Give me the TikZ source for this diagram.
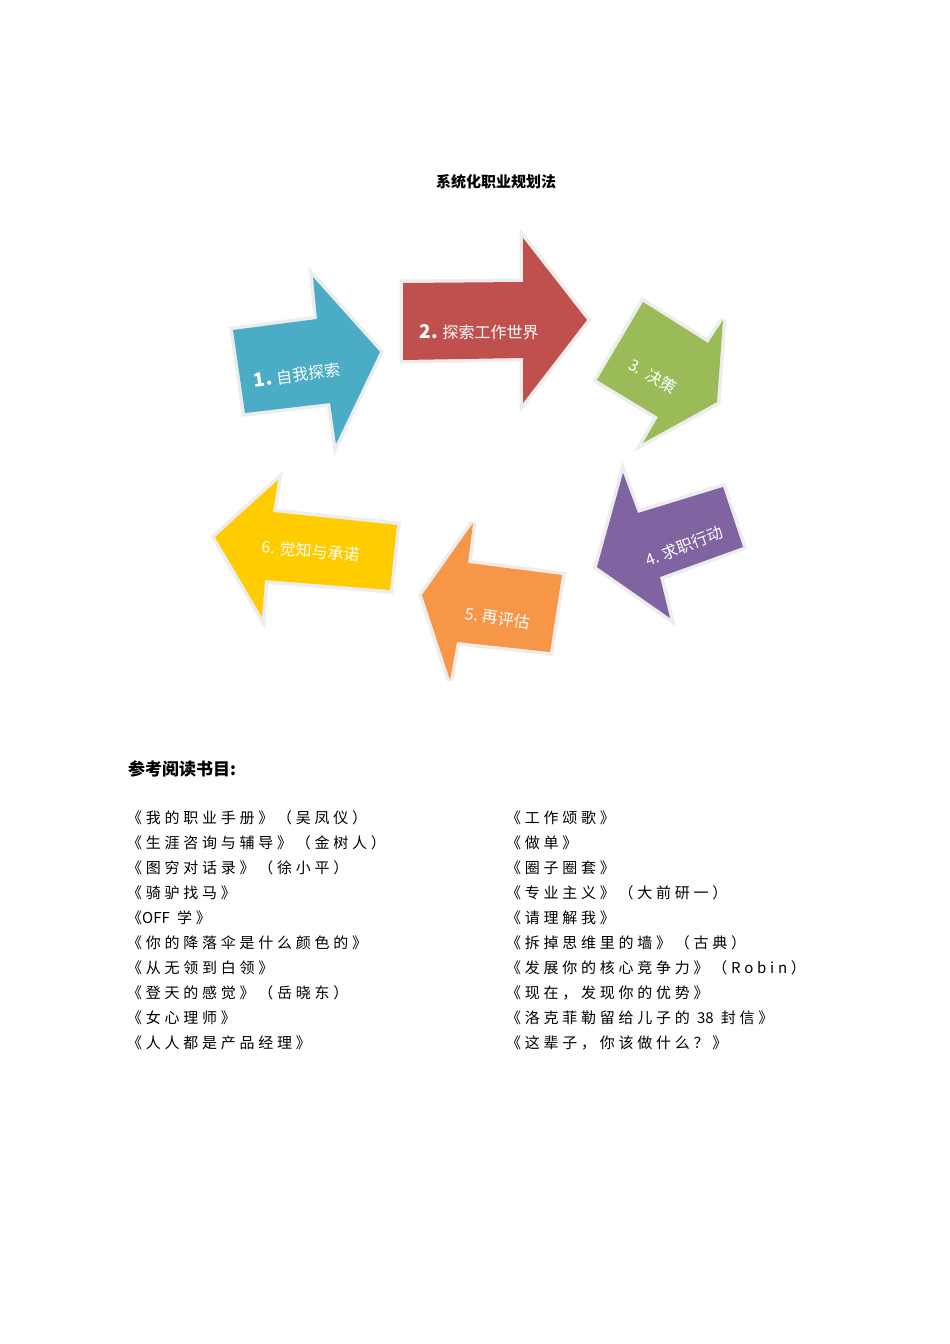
\documentclass[tikz,border=0pt]{standalone}
\usepackage{xcolor}
\usepackage{tikz}
\usepackage{fontspec}
\usetikzlibrary{positioning}
\newfontfamily\cjk{Noto Sans CJK SC}
\newfontfamily\cjkbook[LetterSpace=25]{Noto Sans CJK SC}
\definecolor{stepblue}{HTML}{4BACC6}
\definecolor{stepred}{HTML}{C0504D}
\definecolor{stepgreen}{HTML}{9BBB59}
\definecolor{steppurple}{HTML}{8064A2}
\definecolor{steporange}{HTML}{F79646}
\definecolor{stepyellow}{HTML}{FFCC00}
\definecolor{glow}{HTML}{EDEDED}

\begin{document}
\begin{tikzpicture}[x=1pt,
			y=-1pt,
			blockarrow/.style={preaction={draw=glow, line width=7pt, line join=miter, miter limit=4}},
			steptext/.style={text=white, font=\cjk\fontsize{16}{18}\selectfont},
			booktext/.style={anchor=base west, inner sep=0pt, font=\cjkbook\fontsize{15}{18}\selectfont}]
			
			\fill[white] (0,0) rectangle (950,1344);
			\useasboundingbox (0,0) rectangle (950,1344);
			
			\node (title) at (496,182) {\cjk\bfseries\fontsize{15}{18}\selectfont 系统化职业规划法};
			
			\fill[stepblue, blockarrow] (233,330) -- (317,319) -- (313,277) -- (380,352) -- (336,444) -- (330,403) -- (245,413) -- cycle;
			\fill[stepred, blockarrow] (403,283) -- (523,282) -- (523,238) -- (587,320) -- (523,403) -- (523,358) -- (403,360) -- cycle;
			\fill[stepgreen, blockarrow] (643,302) -- (708,343) -- (723,320) -- (717,402) -- (643,443) -- (658,417) -- (597,380) -- cycle;
			\fill[steppurple, blockarrow] (723,487) -- (638,513) -- (623,473) -- (597,567) -- (670,618) -- (660,577) -- (743,547) -- cycle;
			\fill[steporange, blockarrow] (562,575) -- (468,563) -- (473,523) -- (422,595) -- (450,680) -- (457,642) -- (550,652) -- cycle;
			\fill[stepyellow, blockarrow] (397,525) -- (273,512) -- (278,480) -- (215,537) -- (262,617) -- (265,580) -- (390,590) -- cycle;
			
			\node[steptext, rotate=8] (self) at (297,375) {{\bfseries\fontsize{19}{20}\selectfont 1.} 自我探索};
			\node[steptext] (world) at (479,332) {{\bfseries\fontsize{19}{20}\selectfont 2.} 探索工作世界};
			\node[steptext, rotate=-30] (decide) at (653,376) {3.\hspace{7pt}决策};
			\node[steptext, rotate=21] (act) at (684,546) {4.\hspace{4pt}求职行动};
			\node[steptext, rotate=-8] (review) at (498,618) {5.\hspace{4pt}再评估};
			\node[steptext, rotate=-5] (commit) at (311,551) {6.\hspace{4pt}觉知与承诺};
			
			\node[anchor=base west, inner sep=0pt] (reading) at (128,775) {\cjk\bfseries\fontsize{17}{20}\selectfont 参考阅读书目:};
			
			\foreach \book [count=\i] in {{《我的职业手册》（吴凤仪）}, {《生涯咨询与辅导》（金树人）}, {《图穷对话录》（徐小平）}, {《骑驴找马》}, {《{\cjk OFF} 学》}, {《你的降落伞是什么颜色的》}, {《从无领到白领》}, {《登天的感觉》（岳晓东）}, {《女心理师》}, {《人人都是产品经理》}}
				\node[booktext] (lbook\i) at (127,798+25*\i) {\book};
			\foreach \book [count=\i] in {{《工作颂歌》}, {《做单》}, {《圈子圈套》}, {《专业主义》（大前研一）}, {《请理解我》}, {《拆掉思维里的墙》（古典）}, {《发展你的核心竞争力》（Robin）}, {《现在，发现你的优势》}, {《洛克菲勒留给儿子的 {\cjk 38} 封信》}, {《这辈子，你该做什么？》}}
				\node[booktext] (rbook\i) at (506,798+25*\i) {\book};
		\end{tikzpicture}
\end{document}
